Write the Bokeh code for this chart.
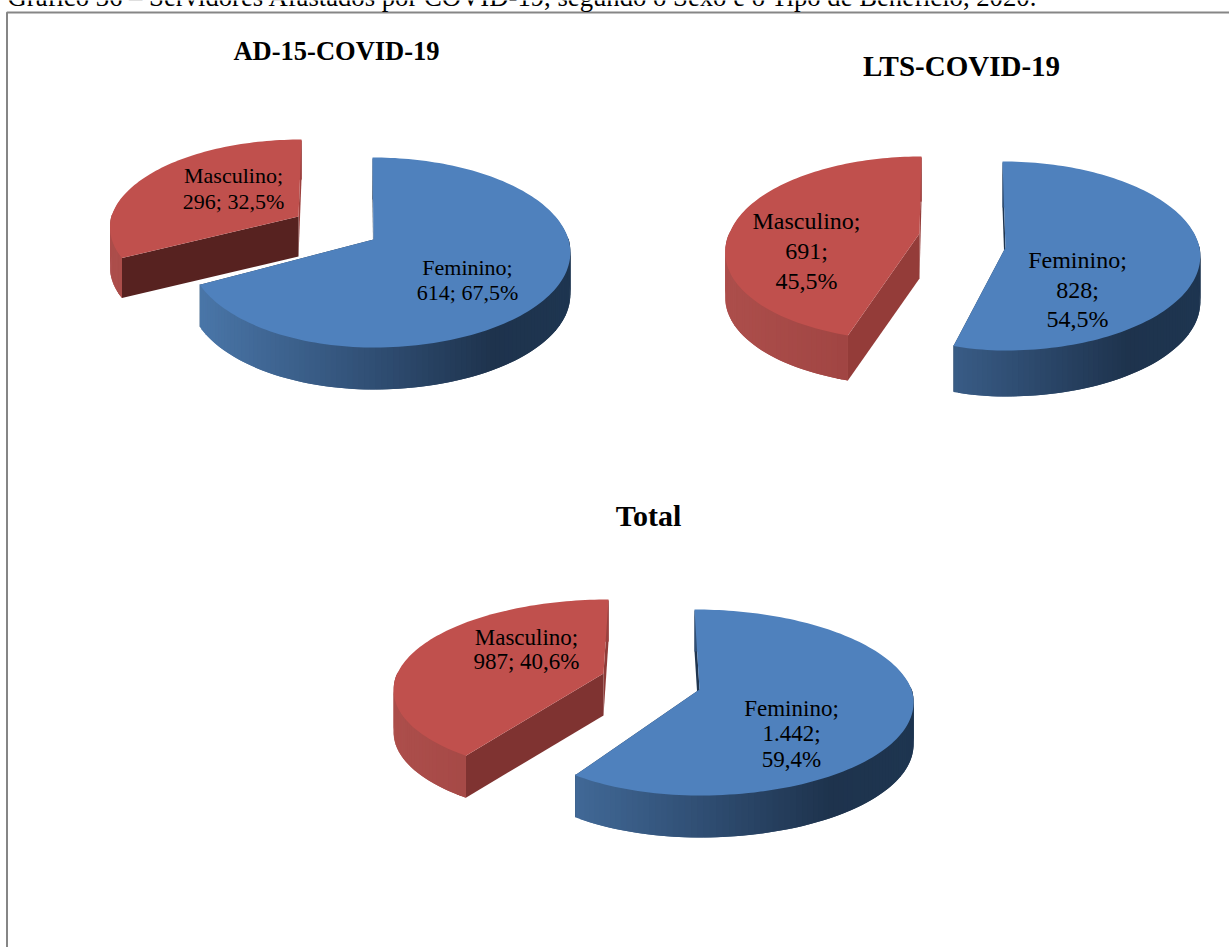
import math
from bokeh.plotting import figure
from bokeh.models import Range1d, ColumnDataSource
from bokeh.core.properties import value
from bokeh.embed import file_html
from bokeh.resources import INLINE

# ---------- data ----------
caption = "Gráfico 36 – Servidores Afastados por COVID-19, segundo o Sexo e o Tipo de Benefício, 2020."
chart_titles = ["AD-15-COVID-19", "LTS-COVID-19", "Total"]
categories = ["Feminino", "Masculino"]
ad15_values = [614, 296]
lts_values = [828, 691]
total_values = [1442, 987]
ad15_pct = ["67,5%", "32,5%"]
lts_pct = ["54,5%", "45,5%"]
total_pct = ["59,4%", "40,6%"]
ad15_num = ["614", "296"]
lts_num = ["828", "691"]
total_num = ["1.442", "987"]

# ---------- layout (page pixels) ----------
BLUE, RED = "#4f81bd", "#c0504d"
BLUE_W = [(0.0, (75, 120, 171)), (0.5, (47, 77, 114)), (0.8, (30, 51, 77)), (1.0, (30, 53, 80))]
RED_W = [(0.0, (172, 78, 75)), (0.5, (154, 64, 62)), (0.85, (132, 53, 51)), (1.0, (132, 53, 51))]

PIES = [
    dict(values=ad15_values, slices=[
        dict(x0=373, y0=239, rl=183, rr=195, top=82, bot=108, far=1, near=0, depth=42,
             color=BLUE, wall=BLUE_W, cut="#1f354f", farcut="#1f354f"),
        dict(x0=298, y0=216, rl=187, rr=187, top=77, bot=98, far=-3, near=-1, depth=40,
             color=RED, wall=RED_W, cut="#572220", farcut="#9c403d"),
    ]),
    dict(values=lts_values, slices=[
        dict(x0=1005, y0=247, rl=170, rr=194, top=86, bot=103, far=3, near=0, depth=46,
             color=BLUE, wall=BLUE_W, cut="#1f354f", farcut="#1f354f"),
        dict(x0=919, y0=233, rl=190, rr=190, top=77, bot=107, far=-2, near=-9, depth=45,
             color=RED, wall=RED_W, cut="#943c39", farcut="#943c39"),
    ]),
    dict(values=total_values, slices=[
        dict(x0=699, y0=689, rl=198, rr=212, top=80, bot=106, far=5, near=0, depth=42,
             color=BLUE, wall=BLUE_W, cut="#1f354f", farcut="#1f354f"),
        dict(x0=603, y0=673, rl=206, rr=206, top=74, bot=102, far=-5, near=-7, depth=42,
             color=RED, wall=RED_W, cut="#7f3331", farcut="#8f3b38"),
    ]),
]

LABELS = [
    (f"{categories[0]};", 467, 267, "22px"), (f"{ad15_num[0]}; {ad15_pct[0]}", 467, 292, "22px"),
    (f"{categories[1]};", 233, 175, "22px"), (f"{ad15_num[1]}; {ad15_pct[1]}", 233, 201, "22px"),
    (f"{categories[1]};", 806, 220, "24px"), (f"{lts_num[1]};", 806, 250, "24px"), (lts_pct[1], 806, 280, "24px"),
    (f"{categories[0]};", 1077, 259, "24px"), (f"{lts_num[0]};", 1077, 289, "24px"), (lts_pct[0], 1077, 318, "24px"),
    (f"{categories[1]};", 526, 637, "23px"), (f"{total_num[1]}; {total_pct[1]}", 526, 661, "23px"),
    (f"{categories[0]};", 791, 708, "23px"), (f"{total_num[0]};", 791, 733, "23px"), (total_pct[0], 791, 759, "23px"),
]
TITLES = [(chart_titles[0], 336, 50, "26.5px"), (chart_titles[1], 961, 65, "29px"), (chart_titles[2], 648, 515, "30px")]


def project(s, u, v):
    k = (s["bot"] - s["top"]) / (s["bot"] + s["top"])
    r = 2 * s["bot"] * s["top"] / (s["bot"] + s["top"])
    d = 1 - k * v
    rx = s["rr"] if u > 0 else s["rl"]
    sk = s["far"] if v < 0 else s["near"]
    return s["x0"] + rx * u / d + sk * v, s["y0"] + r * v / d


def wall_color(s, x):
    span = s["rr"] + s["rl"]
    left = s["x0"] - s["rl"]
    t = max(0.0, min(1.0, (x - left) / span))
    stops = s["wall"]
    for (t0, c0), (t1, c1) in zip(stops, stops[1:]):
        if t <= t1:
            f = (t - t0) / (t1 - t0)
            return "#%02x%02x%02x" % tuple(round(a + (b - a) * f) for a, b in zip(c0, c1))
    return "#%02x%02x%02x" % stops[-1][1]


p = figure(width=1229, height=947, output_backend="svg", toolbar_location=None,
           x_range=Range1d(0, 1229), y_range=Range1d(947, 0),
           x_axis_location=None, y_axis_location=None, min_border=0,
           background_fill_color="white", border_fill_color="white",
           outline_line_color=None)
p.grid.visible = False

xs, ys, fills = [], [], []


def add(px, py, c):
    xs.append(px); ys.append(py); fills.append(c)


for pie in PIES:
    total = sum(pie["values"])
    start = 0.0
    for val, s in zip(pie["values"], pie["slices"]):
        sweep = 360.0 * val / total
        a0, a1 = (start, start + sweep)
        n = max(2, int(sweep / 1.5))
        pts = []
        for i in range(n + 1):
            a = math.radians(a0 + (a1 - a0) * i / n)
            pts.append(project(s, math.sin(a), -math.cos(a)))
        d = s["depth"]
        apex = (s["x0"], s["y0"])
        far_pt, near_pt = (pts[0], pts[-1]) if start == 0.0 else (pts[-1], pts[0])
        # cut faces first, the outer wall then hides what lies behind it
        add([apex[0], far_pt[0], far_pt[0], apex[0]],
            [apex[1], far_pt[1], far_pt[1] + d, apex[1] + d], s["farcut"])
        add([apex[0], near_pt[0], near_pt[0], apex[0]],
            [apex[1], near_pt[1], near_pt[1] + d, apex[1] + d], s["cut"])
        # outer wall, from left to right, each strip overlapping the next one
        order = sorted(range(n), key=lambda i: pts[i][0] + pts[i + 1][0])
        for i in order:
            x1, y1 = pts[i]
            x2, y2 = pts[min(i + 2, n)] if i < n - 1 else pts[n]
            if i > 0 and pts[i - 1][0] > x1:   # arc running leftwards: overlap the other way
                x2, y2 = pts[i + 1]
                x1, y1 = pts[i - 1]
            # tuck the upper edge under the top surface
            o1 = -1 if y1 > apex[1] else 1
            o2 = -1 if y2 > apex[1] else 1
            add([x1, x2, x2, x1], [y1 + o1, y2 + o2, y2 + d, y1 + d],
                wall_color(s, (pts[i][0] + pts[i + 1][0]) / 2))
        # top surface
        add([apex[0]] + [q[0] for q in pts], [apex[1]] + [q[1] for q in pts], s["color"])
        start += sweep

p.patches("xs", "ys", source=ColumnDataSource(dict(xs=xs, ys=ys, fills=fills)),
          fill_color="fills", line_color=None)

# frame of the picture
p.line([6.5, 6.5, 1229], [947, 12, 12], line_color="#868686", line_width=2)

p.text([7], [-4], text=[caption], text_font=value("Liberation Serif"), text_font_size="26.7px",
       text_color="#000000", text_align="left", text_baseline="alphabetic")
for t, x, y, size in LABELS:
    p.text([x], [y], text=[t], text_font=value("Liberation Serif"), text_font_size=size,
           text_color="#000000", text_align="center", text_baseline="middle")
for t, x, y, size in TITLES:
    p.text([x], [y], text=[t], text_font=value("Liberation Serif"), text_font_style="bold",
           text_font_size=size, text_color="#000000", text_align="center", text_baseline="middle")

open("out.html", "w").write(file_html(p, INLINE))
